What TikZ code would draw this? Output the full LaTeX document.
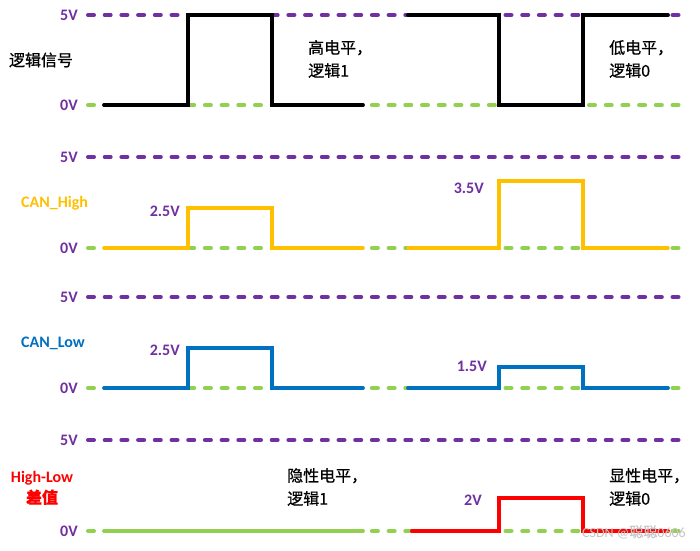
\documentclass[tikz,border=0pt]{standalone}
\usepackage{fontspec}
\setmainfont{Carlito}
\newfontfamily\cjk[FakeBold=0.6]{Noto Sans CJK SC}
\definecolor{vpurple}{HTML}{7030A0}
\definecolor{vgreen}{HTML}{92D050}
\definecolor{vorange}{HTML}{FFC000}
\definecolor{vblue}{HTML}{0070C0}
\definecolor{vred}{HTML}{FF0000}
\begin{document}
\begin{tikzpicture}[x=1pt,y=-1pt,
  fivev/.style={draw=vpurple, line width=4pt, line cap=round, dash pattern=on 6pt off 10.7pt},
  zerov/.style={draw=vgreen, line width=4pt, line cap=round, dash pattern=on 6pt off 10.7pt},
  sig/.style={line width=3.8pt, line cap=round, line join=miter},
  vlab/.style={text=vpurple, font=\bfseries\fontsize{16}{18}\selectfont, inner sep=0pt},
  axlab/.style={vlab, anchor=east},
  signame/.style={font=\bfseries\fontsize{16}{18}\selectfont, inner sep=0pt},
  cnote/.style={font=\cjk\fontsize{16}{23}\selectfont, align=left, anchor=west, inner sep=0pt}]
\useasboundingbox (0,0) rectangle (700,550);
\fill[white] (0,0) rectangle (700,550);
% reference lines
\foreach \yf/\yz [count=\i] in {15/105, 157/248, 297/388, 440/531}{
  \draw[fivev] (88,\yf) -- (688,\yf);
  \draw[zerov] (88,\yz) -- (688,\yz);
  \node[axlab] (five\i) at (78,\yf) {5V};
  \node[axlab] (zero\i) at (78,\yz) {0V};
}
% row 1: logic signal
\draw[sig, black] (104,105) -- (188,105) -- (188,15) -- (272,15) -- (272,105) -- (363,105);
\draw[sig, black] (408,15) -- (499,15) -- (499,105) -- (583,105) -- (583,15) -- (668,15);
\node[font=\cjk\fontsize{16}{18}\selectfont, inner sep=0pt] (logic) at (41,60) {逻辑信号};
\node[cnote] (hi) at (308,59) {高电平，\\逻辑1};
\node[cnote] (lo) at (609,59) {低电平，\\逻辑0};
% row 2: CAN_High
\draw[sig, vorange, line width=3.5pt] (104,248) -- (188,248) -- (188,208) -- (272,208) -- (272,248) -- (363,248);
\draw[sig, vorange, line width=3.5pt] (408,248) -- (499,248) -- (499,181) -- (583,181) -- (583,248) -- (668,248);
\node[signame, text=vorange, anchor=west] (canh) at (21,203) {CAN\_High};
\node[vlab, anchor=east] (h25) at (180,211) {2.5V};
\node[vlab, anchor=east] (h35) at (484,188) {3.5V};
% row 3: CAN_Low
\draw[sig, vblue, line width=3.7pt] (104,388) -- (188,388) -- (188,348) -- (272,348) -- (272,388) -- (363,388);
\draw[sig, vblue, line width=3.7pt] (408,388) -- (499,388) -- (499,367) -- (583,367) -- (583,388) -- (668,388);
\node[signame, text=vblue, anchor=west] (canl) at (21,343) {CAN\_Low};
\node[vlab, anchor=east] (l25) at (180,350) {2.5V};
\node[vlab, anchor=east] (l15) at (487,366) {1.5V};
% row 4: difference
\draw[sig, vgreen, line width=3.8pt] (104,531) -- (363,531);
\draw[sig, vred, line width=4pt] (412,531) -- (499,531) -- (499,498) -- (583,498) -- (583,531) -- (668,531);
\node[signame, text=vred, align=center, font=\bfseries\fontsize{16}{21}\selectfont] (diff) at (42,488) {High-Low\\{\cjk 差值}};
\node[vlab, anchor=east] (d2) at (482,500) {2V};
\node[cnote] (rec) at (287,487) {隐性电平，\\逻辑1};
\node[cnote] (dom) at (609,487) {显性电平，\\逻辑0};
% watermark
\node[text=gray!45, font=\fontsize{14}{16}\selectfont, anchor=east, inner sep=0pt] (wm) at (686,532) {CSDN @{\cjk 聪聪}0606};
\end{tikzpicture}
\end{document}
